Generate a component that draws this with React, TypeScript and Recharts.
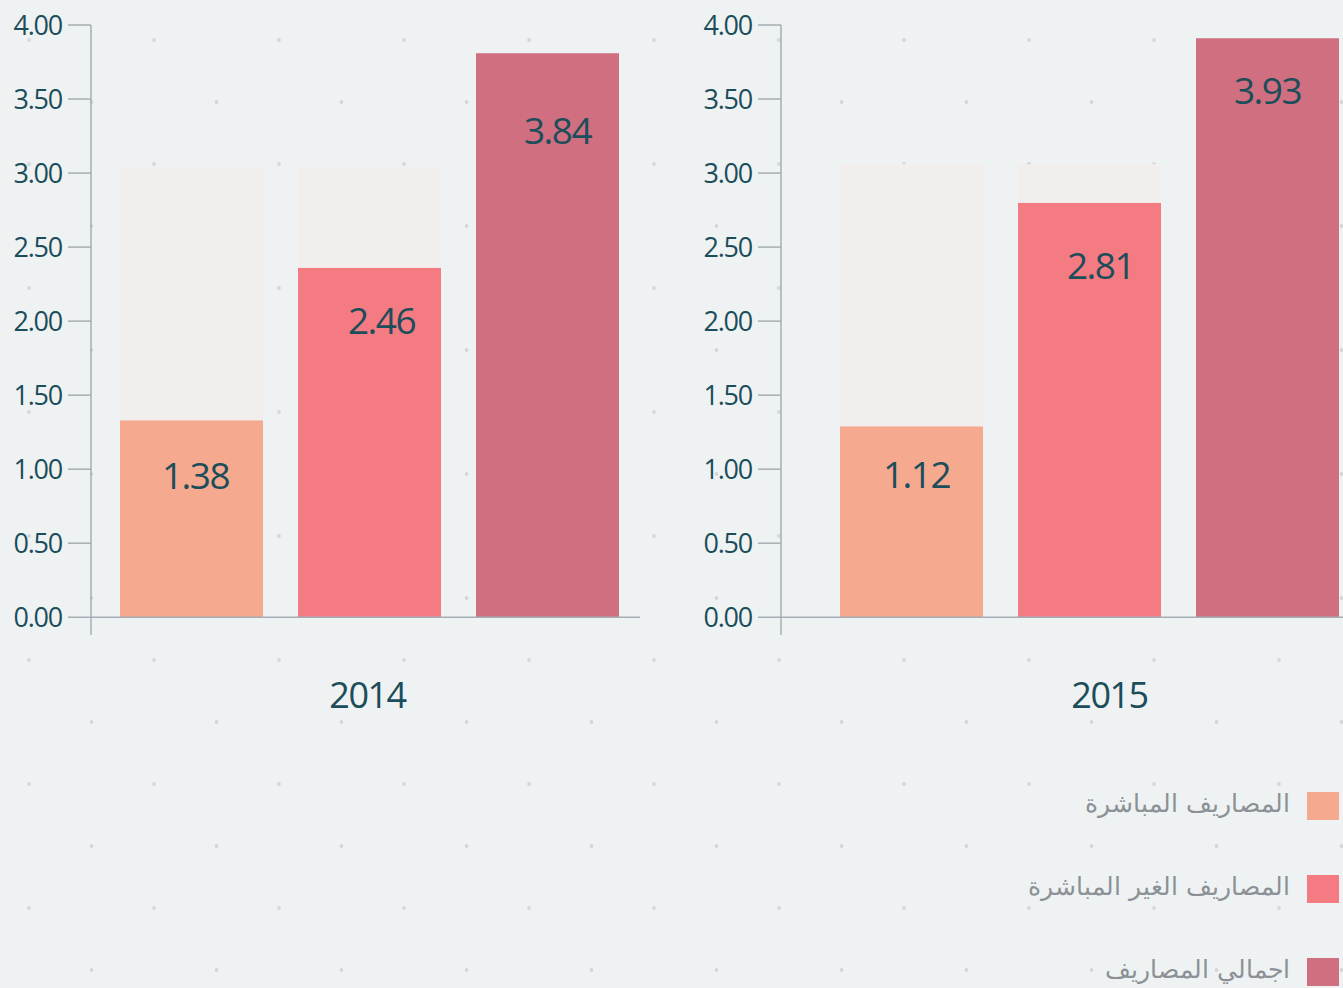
import React from 'react';
import { BarChart, Bar, XAxis, YAxis, ReferenceLine, LabelList } from 'recharts';

const years = ['2014', '2015'];
const directCost = [1.33, 1.29];
const indirectCost = [2.36, 2.8];
const totalCost = [3.81, 3.91];
const directLabels = ['1.38', '1.12'];
const indirectLabels = ['2.46', '2.81'];
const totalLabels = ['3.84', '3.93'];
// light background columns behind the first two series
const capValue = [3.04, 3.06];
const seriesNames = ['المصاريف المباشرة', 'المصاريف الغير المباشرة', 'اجمالي المصاريف'];
const yTicks = [0, 0.5, 1, 1.5, 2, 2.5, 3, 3.5, 4];

const COLORS = ['#f5a98f', '#f57b83', '#cf6f80'];
const CAP_COLOR = '#f2eeed';
const TEXT = '#1b4d5a';
const AXIS = '#a5adb4';
const FONT = '"Open Sans", "Noto Sans", sans-serif';

// small per-label nudges (dx, dy from bar top) so the numbers sit where the original has them
const NUDGE = [
  [[4, 56], [12, 53], [10, 78]],
  [[5, 49], [11, 63], [0, 53]],
];

const buildRow = (i: number) => ({
  year: years[i],
  direct: directCost[i],
  directRest: capValue[i] - directCost[i],
  indirect: indirectCost[i],
  indirectRest: capValue[i] - indirectCost[i],
  total: totalCost[i],
  directLabel: directLabels[i],
  indirectLabel: indirectLabels[i],
  totalLabel: totalLabels[i],
});

const makeLabel = (chart: number, series: number) => (p: any) => {
  const { x, y, width, value } = p;
  const [dx, dy] = NUDGE[chart][series];
  return (
    <text
      x={x + width / 2 + dx}
      y={y + dy + 13}
      textAnchor="middle"
      fill={TEXT}
      fontSize={37}
      fontFamily={FONT}
      letterSpacing={-1.5}
    >
      {value}
    </text>
  );
};

const YearTick = (dx: number) => (p: any) => {
  const { x, y, payload } = p;
  return (
    <text
      x={x + dx}
      y={y + 71}
      textAnchor="middle"
      fill={TEXT}
      fontSize={36}
      fontFamily={FONT}
      letterSpacing={-1.5}
    >
      {payload.value}
    </text>
  );
};

const YearChart = ({ idx, left, width, right, padLeft, yearDx }: any) => {
  const data = [buildRow(idx)];
  return (
    <div style={{ position: 'absolute', left, top: 0 }}>
      <BarChart
        width={width}
        height={760}
        data={data}
        margin={{ top: 25, right, left: 0, bottom: 55 }}
        barSize={143}
        barGap={35}
      >
        <XAxis
          dataKey="year"
          height={70}
          axisLine={false}
          tickLine={false}
          tickSize={0}
          padding={{ left: padLeft, right: 0 }}
          tick={YearTick(yearDx)}
        />
        <YAxis
          width={91}
          domain={[-0.12, 4]}
          ticks={yTicks}
          allowDataOverflow
          tickFormatter={(v: number) => v.toFixed(2)}
          tickSize={23}
          tickMargin={6}
          axisLine={{ stroke: AXIS, strokeWidth: 1.5 }}
          tickLine={{ stroke: AXIS, strokeWidth: 1.5 }}
          tick={{ fill: TEXT, fontSize: 27, fontFamily: FONT, letterSpacing: -1.2 }}
        />
        <Bar dataKey="direct" stackId="a" fill={COLORS[0]} isAnimationActive={false}>
          <LabelList dataKey="directLabel" content={makeLabel(idx, 0)} />
        </Bar>
        <Bar dataKey="directRest" stackId="a" fill={CAP_COLOR} isAnimationActive={false} />
        <Bar dataKey="indirect" stackId="b" fill={COLORS[1]} isAnimationActive={false}>
          <LabelList dataKey="indirectLabel" content={makeLabel(idx, 1)} />
        </Bar>
        <Bar dataKey="indirectRest" stackId="b" fill={CAP_COLOR} isAnimationActive={false} />
        <Bar dataKey="total" stackId="c" fill={COLORS[2]} isAnimationActive={false}>
          <LabelList dataKey="totalLabel" content={makeLabel(idx, 2)} />
        </Bar>
        <ReferenceLine y={0} stroke={AXIS} strokeWidth={1.5} />
      </BarChart>
    </div>
  );
};

const Legend = () => (
  <div style={{ position: 'absolute', right: 0, top: 792 }}>
    {seriesNames.map((name, i) => (
      <div
        key={name}
        style={{ display: 'flex', alignItems: 'center', justifyContent: 'flex-end', height: 28, marginBottom: 55 }}
      >
        <span
          dir="rtl"
          style={{
            fontFamily: '"DejaVu Sans", "Noto Sans", sans-serif',
            fontWeight: 300,
            fontSize: 25,
            color: '#8b9196',
            marginRight: 17,
            marginTop: -6,
            whiteSpace: 'nowrap',
          }}
        >
          {name}
        </span>
        <span style={{ display: 'inline-block', width: 32, height: 28, background: COLORS[i], marginRight: 4 }} />
      </div>
    ))}
  </div>
);

export default function App() {
  return (
    <div
      style={{
        position: 'absolute',
        left: 0,
        top: 0,
        width: 1343,
        height: 988,
        overflow: 'hidden',
        backgroundColor: '#eff2f2',
        backgroundImage:
          'radial-gradient(circle at center, #d3d7d9 1.6px, rgba(0,0,0,0) 2.2px), radial-gradient(circle at center, #d3d7d9 1.6px, rgba(0,0,0,0) 2.2px)',
        backgroundSize: '125px 124px, 125px 124px',
        backgroundPosition: '-33.5px -22px, 29px 40px',
      }}
    >
      <YearChart idx={0} left={0} width={660} right={20} padLeft={8} yearDx={-2} />
      <YearChart idx={1} left={690} width={653} right={0} padLeft={55} yearDx={20} />
      <Legend />
    </div>
  );
}
